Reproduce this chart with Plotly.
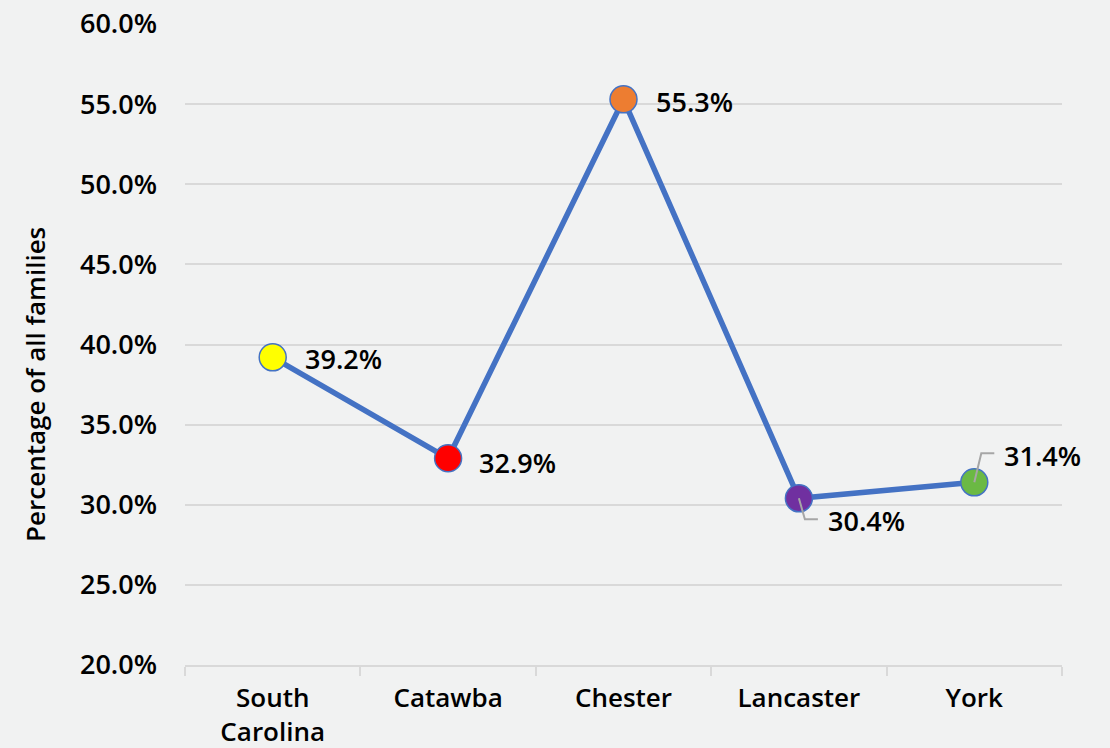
import plotly.graph_objects as go

categories = ["South<br>Carolina", "Catawba", "Chester", "Lancaster", "York"]
values = [39.2, 32.9, 55.3, 30.4, 31.4]
marker_colors = ["#FFFF00", "#FF0000", "#ED7D31", "#7030A0", "#6BB944"]
tick_vals = [20, 25, 30, 35, 40, 45, 50, 55, 60]
tick_text = [f"{v:.1f}%" for v in tick_vals]
y_title = "Percentage of all families"

FONT = "Open Sans"
W = 600
bg = "#F1F2F2"
blue = "#4472C4"

fig = go.Figure()
fig.add_trace(go.Scatter(
    x=categories, y=values,
    mode="lines+markers",
    line=dict(color=blue, width=5.5),
    marker=dict(size=27, color=marker_colors, line=dict(color=blue, width=1.5)),
    showlegend=False, hoverinfo="skip",
))

# label offsets (pixels) for each point
label_shift = [(30, -1), (29, -4), (30, -2), (27, -22), (28, 27)]
for c, v, (dx, dy) in zip(categories, values, label_shift):
    fig.add_annotation(
        x=c, y=v, text=f"{v:.1f}%", showarrow=False,
        xanchor="left", yanchor="middle", xshift=dx, yshift=dy,
        font=dict(family=FONT, size=27, color="#000000", weight=W),
    )

# leader lines for Lancaster and York
leaders = {3: "M 0 0 L 6 -21 L 19 -21", 4: "M 0 0 L 7 29 L 20 29"}
for i, path in leaders.items():
    fig.add_shape(
        type="path", xref="x", yref="y",
        xsizemode="pixel", ysizemode="pixel",
        xanchor=categories[i], yanchor=values[i], path=path,
        line=dict(color="#A6A6A6", width=2),
    )

# y axis title sits a bit below the plot centre in the original
fig.add_annotation(
    text=y_title, textangle=-90, showarrow=False,
    xref="paper", yref="paper", x=0, y=0.437,
    xanchor="center", yanchor="middle", xshift=-150,
    font=dict(family=FONT, size=26, color="#000000", weight=W),
)

fig.update_layout(
    width=1110, height=748,
    paper_bgcolor=bg, plot_bgcolor=bg,
    margin=dict(l=185, r=48, t=24, b=83),
    font=dict(family=FONT, color="#000000"),
    xaxis=dict(
        type="category", range=[-0.5, 4.5], automargin=False,
        showgrid=False, zeroline=False,
        showline=True, linecolor="#D9D9D9", linewidth=2,
        ticks="outside", tickson="boundaries", ticklen=9,
        tickcolor="#D9D9D9", tickwidth=2,
        tickfont=dict(family=FONT, size=26, weight=W),
        ticklabelstandoff=9,
    ),
    yaxis=dict(
        range=[20, 60], tickvals=tick_vals, ticktext=tick_text,
        automargin=False,
        showgrid=True, gridcolor="#D9D9D9", gridwidth=1.5,
        zeroline=False, showline=False,
        tickfont=dict(family=FONT, size=27, weight=W),
        ticklabelstandoff=27,
    ),
)

fig.write_html(
    "out.html",
    config={"displayModeBar": False},
    post_script="document.body.style.margin='0';document.body.style.background='#F1F2F2';",
)
